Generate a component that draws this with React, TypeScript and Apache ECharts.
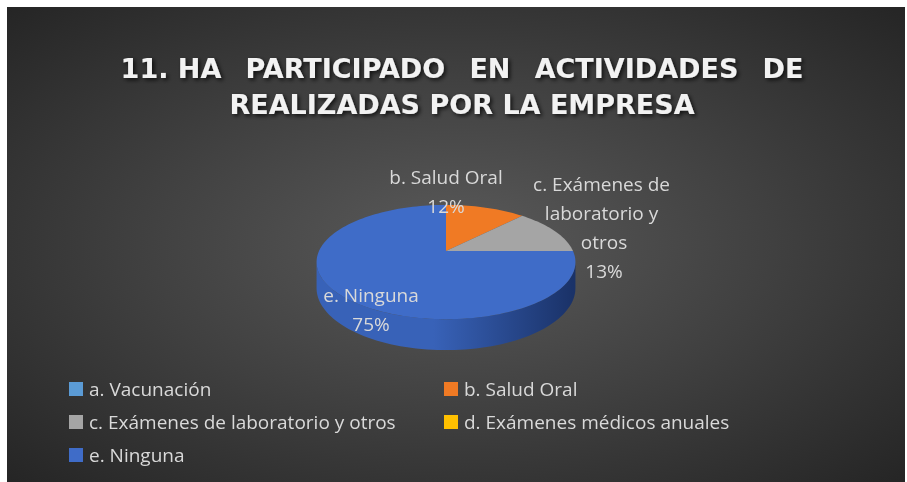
import React, { useEffect, useRef } from "react";
import * as echarts from "echarts";

// ---- data ----
const CATEGORIES = [
  "a. Vacunación",
  "b. Salud Oral",
  "c. Exámenes de laboratorio y otros",
  "d. Exámenes médicos anuales",
  "e. Ninguna",
];
const VALUES = [0, 12, 13, 0, 75];
const TITLE_LINE_1 = "11. HA\u00a0\u2009 PARTICIPADO\u00a0\u2009 EN\u00a0\u2009 ACTIVIDADES\u00a0\u2009 DE";
const TITLE_LINE_2 = "REALIZADAS POR LA EMPRESA";

// ---- styles / layout ----
const TOP_COLORS = ["#5b9bd5", "#f07a24", "#a5a5a5", "#ffc000", "#3f6cc8"];
const SIDE_SHADES = [
  ["#4a86bd", "#2a5683"],
  ["#c9621a", "#8a420d"],
  ["#8c8c8c", "#595959"],
  ["#d9a300", "#8f6b00"],
  ["#3862b8", "#1a3268"],
];
const FONT = "'Open Sans', 'Noto Sans', sans-serif";
const OFF = 7; // chart div offset on page
const CX = 446 - OFF;
const CY = 251 - OFF;
const RX = 127;
const RY = 55;
const K = 0.193; // perspective strength
const DEPTH = 25;
const LABEL_OFFSETS: Record<string, [number, number]> = {
  "b. Salud Oral": [0, -60],
  "c. Exámenes de laboratorio y otros": [158, -24],
  "e. Ninguna": [-75, 58],
};

const TOTAL = VALUES.reduce((a, b) => a + b, 0);
const CUM: number[] = [];
VALUES.reduce((acc, v, i) => {
  CUM[i] = acc;
  return acc + v;
}, 0);

function project(theta: number, drop = 0): [number, number] {
  const u = Math.sin(theta);
  const v = -Math.cos(theta);
  const f = 1 / (1 - K * v);
  return [CX + RX * u * f, CY + RY * v * f + drop * f];
}

function arcPoints(a: number, b: number, drop = 0): [number, number][] {
  const pts: [number, number][] = [];
  const n = Math.max(2, Math.ceil(((b - a) * 180) / Math.PI / 2));
  for (let k = 0; k <= n; k++) pts.push(project(a + ((b - a) * k) / n, drop));
  return pts;
}

function makeRender(i: number) {
  return (_params: any, api: any) => {
    const v = api.value(0);
    if (!v) return null;
    const start = (CUM[i] / TOTAL) * Math.PI * 2;
    const end = start + (v / TOTAL) * Math.PI * 2;
    const children: any[] = [];
    const ts = Math.acos(-K);
    const te = Math.PI * 2 - ts;
    const s0 = Math.max(start, ts);
    const s1 = Math.min(end, te);
    if (s1 > s0) {
      const topArc = arcPoints(s0, s1, 0);
      const botArc = arcPoints(s0, s1, DEPTH).reverse();
      children.push({
        type: "polygon",
        shape: { points: topArc.concat(botArc) },
        style: {
          fill: new echarts.graphic.LinearGradient(
            CX - RX,
            0,
            CX + RX,
            0,
            [
              { offset: 0, color: SIDE_SHADES[i][0] },
              { offset: 0.45, color: SIDE_SHADES[i][0] },
              { offset: 1, color: SIDE_SHADES[i][1] },
            ],
            true
          ),
        },
        z2: 1,
      });
    }
    children.push({
      type: "polygon",
      shape: { points: [[CX, CY] as [number, number]].concat(arcPoints(start, end, 0)) },
      style: { fill: TOP_COLORS[i] },
      z2: 10,
    });
    const pct = Math.round((v / TOTAL) * 100);
    const off = LABEL_OFFSETS[CATEGORIES[i]] || [0, 0];
    children.push({
      type: "text",
      x: CX + off[0],
      y: CY + off[1],
      style: {
        text: CATEGORIES[i] + "\n" + pct + "%",
        fill: "#d9d9d9",
        fontSize: 19,
        fontFamily: FONT,
        lineHeight: 29,
        align: "center",
        verticalAlign: "middle",
        width: 160,
        overflow: "break",
      },
      z2: 20,
    });
    return { type: "group", children };
  };
}

export default function App() {
  const ref = useRef<HTMLDivElement>(null);
  useEffect(() => {
    if (!ref.current) return;
    const chart = echarts.init(ref.current, undefined, { renderer: "svg" });
    const legendBase = {
      orient: "vertical",
      top: 379 - OFF,
      padding: 0,
      itemWidth: 14,
      itemHeight: 14,
      itemGap: 13,
      icon: "rect",
      selectedMode: false,
      textStyle: {
        color: "#d9d9d9",
        fontSize: 19,
        fontFamily: FONT,
        lineHeight: 20,
        padding: [0, 0, 0, 1],
      },
    };
    chart.setOption({
      animation: false,
      title: {
        text: TITLE_LINE_1 + "\n" + TITLE_LINE_2,
        left: 455,
        textAlign: "center",
        top: 43,
        padding: 0,
        textStyle: {
          fontFamily: "'DejaVu Sans', sans-serif",
          fontWeight: "bold",
          fontSize: 27,
          lineHeight: 36,
          color: "#f2f2f2",
          textShadowColor: "rgba(0,0,0,0.75)",
          textShadowBlur: 4,
          textShadowOffsetX: 2,
          textShadowOffsetY: 2,
        },
      },
      legend: [
        { ...legendBase, left: 69 - OFF, data: [CATEGORIES[0], CATEGORIES[2], CATEGORIES[4]] },
        { ...legendBase, left: 444 - OFF, data: [CATEGORIES[1], CATEGORIES[3]] },
      ],
      series: CATEGORIES.map((name, i) => ({
        type: "custom",
        name,
        coordinateSystem: "none",
        silent: true,
        itemStyle: { color: TOP_COLORS[i] },
        data: [[VALUES[i]]],
        renderItem: makeRender(i),
      })),
    });
    return () => chart.dispose();
  }, []);
  return (
    <div
      style={{
        position: "fixed",
        left: OFF,
        top: OFF,
        width: 898,
        height: 475,
        background:
          "radial-gradient(ellipse at 50% 50%, #5a5a5a 0%, #404040 50%, #252525 100%)",
      }}
    >
      <div ref={ref} style={{ width: 898, height: 475 }} />
    </div>
  );
}
